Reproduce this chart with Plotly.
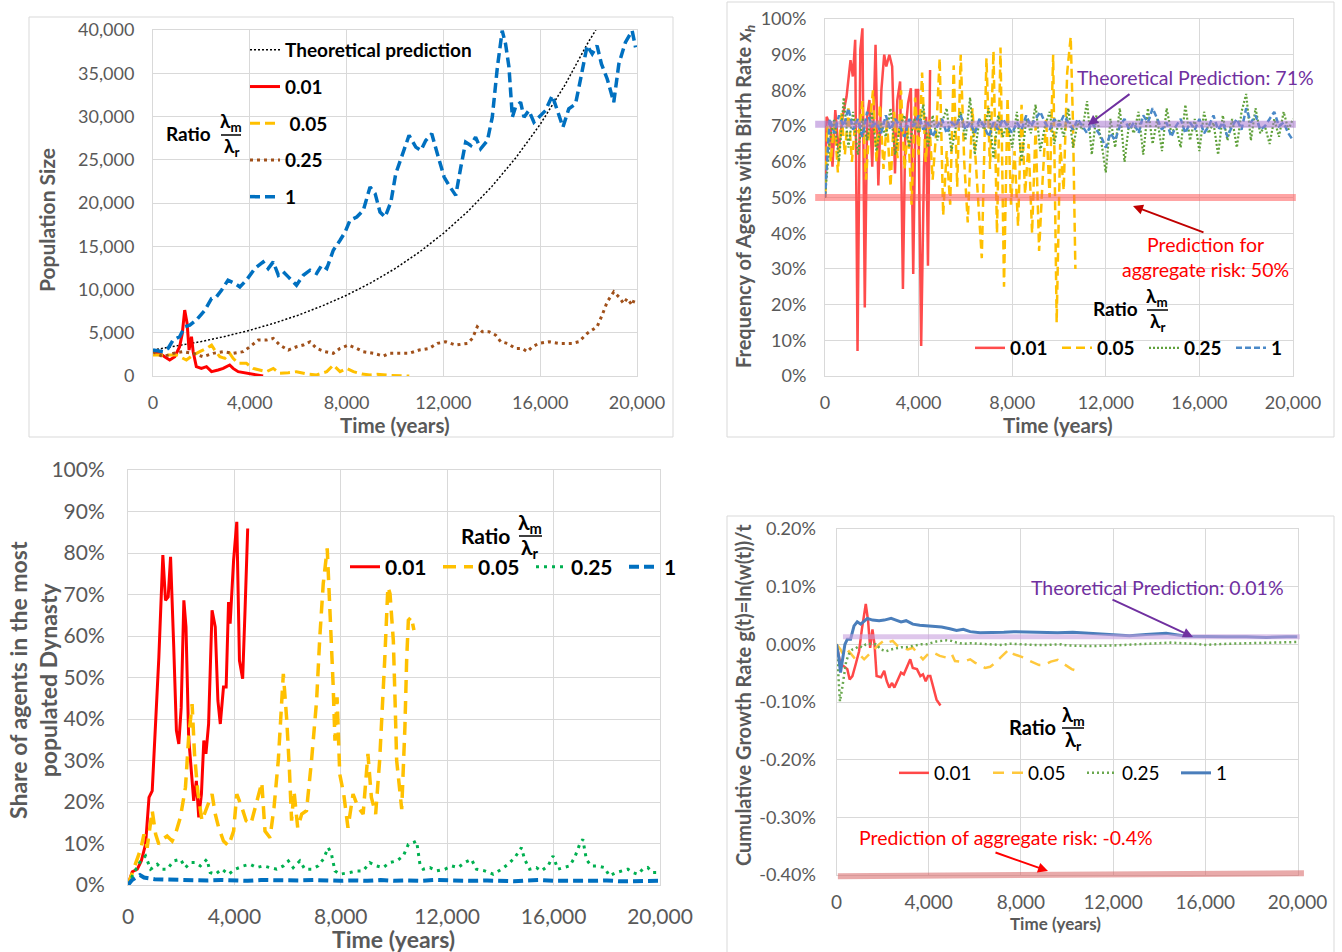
import plotly.graph_objects as go

# ---------------- DATA ----------------
year_ticks = [0, 4000, 8000, 12000, 16000, 20000]
year_ticktext = ["0", "4,000", "8,000", "12,000", "16,000", "20,000"]
pop_ticks = [0, 5000, 10000, 15000, 20000, 25000, 30000, 35000, 40000]
pop_ticktext = ["0", "5,000", "10,000", "15,000", "20,000", "25,000", "30,000", "35,000", "40,000"]
pct_ticks = [0, 10, 20, 30, 40, 50, 60, 70, 80, 90, 100]
pct_ticktext = ["0%", "10%", "20%", "30%", "40%", "50%", "60%", "70%", "80%", "90%", "100%"]
g_ticks = [-0.4, -0.3, -0.2, -0.1, 0.0, 0.1, 0.2]
g_ticktext = ["-0.40%", "-0.30%", "-0.20%", "-0.10%", "0.00%", "0.10%", "0.20%"]

# Panel 1 : population size
theory_years = [0, 1000, 2000, 3000, 4000, 5000, 6000, 7000, 8000, 9000, 10000, 11000, 12000,
                13000, 14000, 15000, 16000, 17000, 18000, 18300]
theory_pop = [3000, 3460, 3990, 4590, 5290, 6100, 7030, 8110, 9340, 10770, 12410, 14310, 16490,
              19000, 21900, 25250, 29100, 33540, 38650, 40000]
p1_r001_x = [0, 280, 480, 690, 900, 1100, 1210, 1310, 1410, 1490, 1590, 1660, 1790, 2000, 2210, 2420,
             2690, 2900, 3170, 3310, 3520, 3860, 4210, 4550]
p1_r001_y = [2800, 2620, 2230, 1850, 2230, 3380, 4920, 7620, 6080, 3000, 4540, 2810, 1080, 880, 1080, 500,
             690, 880, 1270, 880, 500, 310, 120, 0]
p1_r005_x = [0, 550, 970, 1380, 1660, 1930, 2210, 2420, 2550, 2760, 2970, 3170, 3310, 3520, 3860, 4140,
             4420, 4690, 4970, 5240, 5590, 5930, 6350, 6760, 7180, 7450, 7730, 8000, 8280, 8630, 8970,
             9250, 9780, 10590]
p1_r005_y = [2420, 2420, 2420, 1850, 2420, 2810, 3190, 3580, 3000, 2230, 2040, 2620, 2040, 1460, 1460, 880,
             690, 500, 880, 310, 380, 500, 230, 120, 500, 1270, 500, 880, 500, 230, 120,
             190, 80, 0]
p1_r025_x = [0, 414, 830, 1240, 1660, 2070, 2480, 2900, 3310, 3730, 4000, 4350, 4690, 4970, 5240, 5590,
             5930, 6210, 6490, 6760, 7110, 7450, 7730, 8070, 8420, 8690, 9110, 9520, 9760, 10170, 10580,
             11000, 11410, 11750, 12100, 12510, 12990, 13200, 13400, 13610, 13880, 14160, 14370, 14640,
             14980, 15260, 15470, 15670, 15950, 16360, 16770, 17320, 17600, 17940, 18350, 18560, 18770,
             19040, 19250, 19450, 19590, 19800, 19930]
p1_r025_y = [2800, 2230, 2620, 2810, 2620, 2230, 2620, 2810, 2620, 2810, 3380, 4150, 4150, 4350, 3580, 3000,
             3380, 3580, 3960, 3190, 2810, 2620, 3190, 3580, 3190, 2810, 2620, 2310, 2620, 2620, 2620,
             3000, 3190, 3770, 3960, 3580, 3770, 4350, 5690, 5120, 5120, 4730, 3960, 3770,
             3190, 3190, 2810, 3380, 3770, 3960, 3770, 3770, 3960, 4920, 5690, 7040, 8580,
             9730, 9150, 8380, 8960, 8190, 9150]
p1_r1_x = [0, 414, 620, 830, 1100, 1310, 1520, 1790, 2140, 2420, 2620, 2830, 3100, 3380, 3590, 3860, 4210,
           4550, 4760, 4970, 5180, 5380, 5590, 5930, 6210, 6490, 6760, 6970, 7180, 7450, 7730, 7940, 8140,
           8420, 8690, 8970, 9180, 9380, 9590, 9830, 10030, 10310, 10580, 10860, 11070, 11270, 11520,
           11750, 12030, 12230, 12510, 12720, 12920, 13130, 13330, 13540, 13820, 14020, 14230, 14430,
           14570, 14710, 14850, 14980, 15190, 15330, 15530, 15740, 15950, 16220, 16500, 16700, 16940,
           17180, 17460, 17670, 17940, 18150, 18350, 18530, 18770, 19040, 19250, 19520, 19800, 19940]
p1_r1_y = [3000, 2800, 3190, 4150, 4540, 5690, 5880, 6460, 7600, 8960, 9150, 9920, 11080, 10700, 10300, 11080,
           12420, 13190, 12420, 13190, 11650, 12040, 11460, 10500, 11650, 12230, 11850, 12800, 12420, 14540,
           15690, 16650, 18000, 18380, 19150, 21850, 21080, 18960, 18380, 20110, 23380, 25690, 27810, 26460,
           26080, 27230, 28000, 25690, 23000, 22040, 20880, 24150, 27040, 26650, 27610, 26270, 27230, 29920,
           35690, 39920, 38380, 35690, 29920, 31080, 31650, 29920, 30690, 29350, 29920, 30690, 32420, 30690,
           28770, 30880, 31460, 34340, 38190, 37230, 38190, 36080, 34340, 31650, 36080, 38570, 39920, 38000]

# Panel 2 : frequency of agents with birth rate x_h (%)
p2_r001_x = [0, 70, 240, 320, 440, 580, 750, 920, 1090, 1190, 1290, 1390, 1510, 1600, 1700, 1800, 1900,
             2020, 2160, 2280, 2410, 2530, 2620, 2750, 2870, 2990, 3090, 3210, 3330, 3430, 3550, 3670,
             3770, 3880, 3980, 4110, 4230, 4320, 4400, 4490]
p2_r001_y = [50, 72.6, 69.8, 58.6, 74.5, 63.2, 72.6, 78.2, 88.5, 83.9, 94.2, 7, 91.4, 97.4, 19.2, 72.6, 77.3,
             58.6, 92.8, 53.4, 80.1, 90, 86.7, 90, 86.7, 56.7, 77.3, 82.5, 24.4, 67.9, 76.4, 80.6,
             28.6, 80.1, 80.1, 8.4, 58.6, 72.6, 30.9, 85.7]
p2_r005_x = [0, 100, 250, 400, 550, 700, 850, 1000, 1150, 1300, 1450, 1600, 1750, 1900, 2050, 2200, 2350,
             2500, 2650, 2800, 2950, 3100, 3250, 3400, 3550, 3700, 3850, 4000, 4150, 4300, 4450, 4600,
             4750, 4900, 5050, 5200, 5350, 5500, 5650, 5800, 5950, 6100, 6300, 6500, 6700, 6900, 7050,
             7200, 7350, 7500, 7650, 7800, 7950, 8100, 8250, 8400, 8550, 8700, 8850, 9000, 9150, 9300,
             9450, 9600, 9750, 9900, 10050, 10200, 10350, 10500, 10600, 10700]
p2_r005_y = [50, 70, 60, 72, 57, 74, 62, 75, 60, 72, 68, 77, 55, 70, 80, 60, 76, 58, 72, 53, 74, 61, 80, 58,
             70, 48, 78, 62, 85, 60, 72, 55, 68, 89, 45, 63, 48, 87, 53, 90, 60, 43, 75, 55, 33, 89, 58,
             91, 40, 92, 25, 78, 48, 63, 42, 76, 51, 65, 40, 70, 35, 55, 72, 50, 90, 15, 65, 52, 85, 95,
             70, 30]
p2_step_years = [200 * i for i in range(101)]
p2_r025_y = [50, 66, 72, 60, 78, 64, 74, 62, 72, 66,
             74, 63, 71, 67, 75, 62, 70, 73, 64, 72,
             68, 76, 64, 73, 66, 71, 75, 63, 70, 74,
             66, 78, 62, 72, 69, 75, 61, 73, 67, 71,
             64, 74, 60, 72, 68, 76, 63, 70, 74, 65,
             72, 67, 75, 64, 71, 69, 77, 62, 73, 66,
             57, 72, 64, 75, 60, 71, 68, 74, 62, 75,
             65, 72, 63, 75, 68, 70, 64, 76, 66, 72,
             63, 74, 68, 71, 62, 73, 66, 72, 64, 74,
             79, 66, 75, 68, 70, 65, 72, 67, 74, 69,
             72]
p2_r1_y = [50, 72, 68, 73, 70, 75, 69, 72, 67, 74,
           70, 71, 68, 73, 69, 72, 70, 67, 72, 70,
           73, 69, 71, 67, 70, 72, 68, 71, 70, 73,
           69, 71, 68, 72, 70, 67, 71, 69, 72, 70,
           68, 71, 69, 73, 70, 72, 74, 71, 69, 72,
           70, 73, 71, 69, 72, 70, 68, 71, 69, 67,
           64, 68, 66, 70, 72, 69, 71, 68, 73, 71,
           75, 72, 69, 71, 67, 70, 72, 68, 71, 69,
           72, 68, 70, 73, 69, 71, 67, 70, 72, 69,
           75, 71, 73, 69, 70, 72, 74, 70, 71, 68,
           66]
pred_freq = 70.5
agg_freq = 50

# Panel 3 : share of agents in the most populated dynasty (%)
p3_r001_x = [0, 160, 350, 500, 660, 790, 910, 1040, 1160, 1310, 1410, 1510, 1600, 1720, 1820, 1910, 2000,
             2100, 2180, 2280, 2370, 2470, 2570, 2660, 2760, 2850, 2930, 3030, 3160, 3280, 3380, 3470,
             3590, 3690, 3780, 3840, 3970, 4090, 4190, 4310, 4400, 4500]
p3_r001_y = [0, 3.2, 3.8, 5.8, 9.8, 21.1, 22.7, 38.8, 54.9, 79.5, 68.6, 69.4, 79.1, 57.3, 37.2, 34.0, 42.8,
             68.6, 62.2, 35.6, 28.3, 20.3, 25.1, 16.3, 21.9, 34.8, 31.6, 38.8, 66.2, 62.2, 44.4, 38.8,
             47.7, 47.7, 68.2, 63.0, 78.3, 87.5, 54.1, 49.7, 66.2, 85.9]
p3_r005_x = [0, 225, 475, 600, 720, 910, 1040, 1160, 1290, 1470, 1660, 1780, 1970, 2160, 2280, 2410, 2500,
             2620, 2780, 2990, 3160, 3280, 3410, 3590, 3780, 3970, 4090, 4280, 4440, 4620, 4840, 5030,
             5150, 5340, 5490, 5650, 5840, 5970, 6070, 6150, 6240, 6380, 6530, 6710, 6900, 7090, 7210,
             7340, 7490, 7590, 7710, 7780, 7860, 7960, 8110, 8270, 8460, 8650, 8840, 9020, 9150, 9310,
             9460, 9650, 9770, 9850, 9975, 10040, 10100, 10290, 10410, 10475, 10540, 10650, 10750]
p3_r005_y = [0, 4.2, 8.6, 12.2, 9.0, 17.9, 12.2, 9.8, 11.0, 11.8, 10.6, 12.2, 16.3, 23.5, 35.6, 43.6, 31.6,
             22.7, 15.5, 19.1, 21.9, 17.1, 13.8, 10.6, 9.4, 13.0, 21.9, 18.7, 15.5, 14.7, 20.3, 24.7,
             13.0, 11.4, 18.7, 30.0, 50.9, 39.6, 27.5, 15.5, 22.7, 13.8, 17.1, 17.9, 30.0, 44.4, 59.7,
             72.6, 81.1, 67.8, 48.5, 34.8, 45.2, 26.7, 21.9, 13.8, 21.9, 18.7, 17.1, 31.6, 21.1, 17.1,
             30.0, 54.1, 71.8, 70.2, 58.9, 44.4, 30.0, 18.3, 38.0, 54.1, 63.8, 64.6, 61.4]
p3_r025_x = [0, 225, 475, 660, 850, 1100, 1290, 1470, 1720, 1970, 2160, 2350, 2530, 2720, 2970, 3090, 3280,
             3530, 3780, 4030, 4340, 4590, 4840, 5090, 5340, 5590, 5840, 6030, 6210, 6460, 6650, 6900,
             7150, 7340, 7530, 7650, 7780, 7960, 8340, 8590, 8840, 9090, 9340, 9590, 9840, 10100, 10350,
             10540, 10725, 10850, 10975, 11100, 11350, 11600, 11910, 12160, 12410, 12660, 12910, 13100,
             13410, 13730, 14040, 14290, 14540, 14790, 14910, 15100, 15350, 15540, 15790, 15980, 16160,
             16350, 16600, 16790, 16980, 17100, 17230, 17410, 17660, 17910, 18100, 18350, 18600, 18790,
             18975, 19160, 19350, 19540, 19725, 19850, 20000]
p3_r025_y = [0, 3.0, 5.8, 7.0, 3.8, 5.0, 3.8, 3.8, 5.8, 6.2, 4.2, 5.4, 5.4, 4.6, 6.2, 3.0, 2.6,
             3.8, 2.6, 3.8, 4.6, 5.0, 4.2, 4.6, 4.2, 3.8, 4.6, 5.8, 4.2, 5.8, 3.8, 3.8,
             4.6, 6.2, 9.0, 7.4, 3.4, 2.6, 3.0, 3.4, 3.4, 5.4, 4.6, 4.2, 5.4, 5.8, 7.0,
             9.8, 10.2, 10.6, 5.0, 3.8, 4.2, 3.4, 3.8, 4.6, 4.2, 5.4, 6.2, 3.8,
             3.4, 2.6, 3.8, 5.0, 6.6, 9.0, 6.2, 3.8, 4.2, 3.4, 4.6, 7.0, 3.8,
             4.2, 4.6, 6.6, 9.8, 11.0, 6.2, 4.6, 4.6, 4.2, 2.2, 3.0, 3.4, 3.8,
             3.0, 2.6, 3.8, 4.2, 3.0, 3.0, 3.0]
p3_r1_x = [0, 150, 300, 450, 600, 800, 1000, 1500, 2000, 2500, 3000, 3500, 4000, 4500, 5000, 5500, 6000,
           6500, 7000, 7500, 8000, 8500, 9000, 9500, 10000, 10500, 11000, 11500, 12000, 12500, 13000,
           13500, 14000, 14500, 15000, 15500, 16000, 16500, 17000, 17500, 18000, 18500, 19000, 19500, 20000]
p3_r1_y = [0, 1.2, 1.8, 2.4, 1.8, 1.6, 1.4, 1.3, 1.2, 1.2, 1.1, 1.2, 1.1, 1.0, 1.2, 1.1, 1.0,
           1.1, 1.2, 1.0, 1.0, 1.1, 1.0, 1.2, 1.0, 1.1, 1.0, 1.2, 1.1, 1.0, 1.0,
           1.1, 1.0, 0.9, 1.1, 1.2, 1.0, 1.1, 1.0, 1.0, 1.1, 0.9, 1.0, 1.0, 1.0]

# Panel 4 : cumulative growth rate (%)
p4_r001_x = [0, 175, 320, 470, 570, 690, 830, 980, 1100, 1200, 1270, 1370, 1460, 1560, 1650, 1740, 1930,
             2070, 2180, 2290, 2410, 2510, 2660, 2800, 2920, 3100, 3200, 3310, 3490, 3640, 3750, 3870,
             3970, 4070, 4190, 4340, 4510]
p4_r001_y = [0, -0.035, -0.038, -0.043, -0.061, -0.055, -0.035, -0.012, 0.026, 0.052, 0.070, 0.041, -0.006,
             0.026, 0.000, -0.055, -0.057, -0.046, -0.064, -0.075, -0.067, -0.075, -0.061, -0.049, -0.052,
             -0.035, -0.026, -0.041, -0.043, -0.055, -0.052, -0.064, -0.055, -0.055, -0.075, -0.096, -0.106]
p4_r005_x = [0, 175, 320, 540, 760, 980, 1200, 1420, 1640, 1850, 2070, 2220, 2440, 2660, 2880, 3100, 3310,
             3530, 3750, 3970, 4190, 4480, 4770, 5000, 5140, 5360, 5580, 5800, 6020, 6230, 6450, 6670,
             6890, 7110, 7330, 7480, 7690, 7910, 8130, 8350, 8570, 8790, 9010, 9300, 9600, 9900, 10200, 10500]
p4_r005_y = [0, -0.009, -0.020, -0.012, -0.023, -0.017, -0.026, -0.017, -0.009, 0.000, 0.007, 0.003, 0.006,
             -0.003, -0.006, -0.009, -0.006, -0.017, -0.026, -0.017, -0.014, -0.020, -0.023, -0.017, -0.029,
             -0.030, -0.029, -0.026, -0.032, -0.036, -0.041, -0.039, -0.032, -0.023, -0.014, -0.009, -0.017,
             -0.020, -0.023, -0.028, -0.032, -0.036, -0.036, -0.030, -0.027, -0.035, -0.043, -0.047]
p4_r025_x = [0, 70, 150, 250, 320, 420, 540, 690, 830, 980, 1120, 1270, 1490, 1710, 1930, 2150, 2370, 2580,
             2800, 3020, 3240, 3460, 3680, 3900, 4120, 4340, 4560, 4770, 4990, 5210, 5500, 5800, 6230,
             6670, 7110, 7550, 7990, 8570, 9150, 9740, 10000, 11000, 12000, 13000, 14000, 14500, 15500,
             16000, 17000, 18000, 19000, 20000]
p4_r025_y = [0, -0.046, -0.099, -0.075, -0.052, -0.029, -0.017, -0.009, -0.007, -0.003, -0.005, 0, 0.001, 0,
             -0.009, -0.012, -0.009, -0.007, -0.005, -0.005, -0.003, -0.001, 0, 0, 0.003, 0.005, 0.006,
             0.007, 0.006, 0.003, 0.001, 0.002, 0.001, 0, -0.001, 0.001, 0, -0.001, -0.001, 0, -0.002,
             -0.003, -0.002, 0.0, 0.002, 0.003, 0.001, -0.001, 0.001, 0.002, 0.003, 0.004]
p4_r1_x = [0, 100, 175, 280, 365, 470, 610, 760, 900, 1050, 1200, 1340, 1560, 1850, 2070, 2370, 2580, 2800,
           3020, 3310, 3610, 3900, 4190, 4560, 4920, 5210, 5500, 5800, 6230, 6820, 7260, 7690, 8280, 8860,
           9590, 10250, 11120, 11990, 12710, 13430, 14300, 15170, 16040, 16910, 17780, 18650, 19520, 20000]
p4_r1_y = [0, -0.023, -0.049, -0.023, 0.000, 0.009, 0.009, 0.032, 0.039, 0.035, 0.041, 0.045, 0.042, 0.041,
           0.042, 0.045, 0.042, 0.039, 0.041, 0.035, 0.033, 0.032, 0.031, 0.030, 0.027, 0.024, 0.026, 0.022,
           0.020, 0.020, 0.021, 0.022, 0.021, 0.021, 0.020, 0.021, 0.019, 0.017, 0.015, 0.017, 0.019, 0.014,
           0.013, 0.013, 0.013, 0.012, 0.013, 0.013]
pred_g = 0.013
agg_g_start, agg_g_end = -0.402, -0.397

# ---------------- LAYOUT HELPERS ----------------
W, H = 1342, 952
def fx(p): return p / W
def fy(p): return 1 - p / H

P1 = (153, 637, 30, 376)
P2 = (825, 1293, 19, 376)
P3 = (128, 660, 470, 885)
P4 = (836.5, 1297.5, 529, 875)

GRID = '#D9D9D9'
TICK = '#595959'
FONT = 'Lato, Carlito, Calibri, sans-serif'

fig = go.Figure()

def add(x, y, name, color, width, dash, ax, legend, group=None):
    fig.add_trace(go.Scatter(
        x=x, y=y, name=name, mode='lines',
        line=dict(color=color, width=width, dash=dash),
        xaxis='x' + ax, yaxis='y' + ax, legend=legend, legendgroup=group,
        hoverinfo='skip'))

# Panel 1
add(theory_years, theory_pop, 'Theoretical prediction', '#000000', 1.5, '2px,2px', '', 'legend', 'g0')
add(p1_r001_x, p1_r001_y, '0.01', '#FF0000', 3, 'solid', '', 'legend', 'g1')
add(p1_r005_x, p1_r005_y, ' 0.05', '#FFC000', 3, '10px,5px', '', 'legend', 'g2')
add(p1_r025_x, p1_r025_y, '0.25', '#A0501A', 3, '3px,4px', '', 'legend', 'g3')
add(p1_r1_x, p1_r1_y, '1', '#0070C0', 3.5, '10px,5px', '', 'legend', 'g4')

# Panel 2
add(p2_r001_x, p2_r001_y, '0.01', 'rgba(255,45,45,0.85)', 2.5, 'solid', '2', 'legend2')
add(p2_r005_x, p2_r005_y, '0.05', '#FFC000', 2.5, '9px,5px', '2', 'legend2')
add(p2_step_years, p2_r025_y, '0.25', '#5FA03A', 2.2, '2px,2px', '2', 'legend2')
add(p2_step_years, p2_r1_y, '1', '#4A89C8', 2.5, '6px,3px', '2', 'legend2')

# Panel 3
add(p3_r001_x, p3_r001_y, '0.01', '#FF0000', 3, 'solid', '3', 'legend3')
add(p3_r005_x, p3_r005_y, '0.05', '#FFC000', 3.5, '13px,8px', '3', 'legend3')
add(p3_r025_x, p3_r025_y, '0.25', '#00B050', 3, '3px,5px', '3', 'legend3')
add(p3_r1_x, p3_r1_y, '1', '#0070C0', 4, '10px,5px', '3', 'legend3')

# Panel 4
add(p4_r001_x, p4_r001_y, '0.01', '#FF4848', 2.5, 'solid', '4', 'legend4')
add(p4_r005_x, p4_r005_y, '0.05', '#FFC83C', 2.5, '11px,8px', '4', 'legend4')
add(p4_r025_x, p4_r025_y, '0.25', '#6AA84F', 2.5, '2px,3px', '4', 'legend4')
add(p4_r1_x, p4_r1_y, '1', '#4A7EBB', 3, 'solid', '4', 'legend4')


def xaxis(box, anchor, size, standoff):
    return dict(domain=[fx(box[0]), fx(box[1])], anchor=anchor, range=[0, 20000],
                tickmode='array', tickvals=year_ticks, ticktext=year_ticktext,
                showgrid=True, gridcolor=GRID, gridwidth=1, zeroline=False,
                showline=True, mirror=True, linecolor=GRID, linewidth=1, ticks='',
                tickfont=dict(size=size, color=TICK, family=FONT), automargin=False,
                ticklabelstandoff=standoff, fixedrange=True)


def yaxis(box, anchor, rng, vals, text, size, standoff):
    return dict(domain=[fy(box[3]), fy(box[2])], anchor=anchor, range=rng,
                tickmode='array', tickvals=vals, ticktext=text,
                showgrid=True, gridcolor=GRID, gridwidth=1, zeroline=False,
                showline=True, mirror=True, linecolor=GRID, linewidth=1, ticks='',
                tickfont=dict(size=size, color=TICK, family=FONT), automargin=False,
                ticklabelstandoff=standoff, fixedrange=True)


annotations = []
shapes = []


def text(px, py, t, size, color='#000000', bold=False, angle=0, xanchor='center', yanchor='middle'):
    annotations.append(dict(x=fx(px), y=fy(py), xref='paper', yref='paper', text=t, showarrow=False,
                            textangle=angle, xanchor=xanchor, yanchor=yanchor,
                            font=dict(size=size, color=color, family=FONT,
                                      weight='bold' if bold else 'normal')))


def arrow(hx, hy, tx, ty, color):
    annotations.append(dict(x=fx(hx), y=fy(hy), xref='paper', yref='paper', text='', showarrow=True,
                            ax=tx - hx, ay=ty - hy, arrowhead=2, arrowsize=1, arrowwidth=2,
                            arrowcolor=color, standoff=0, startstandoff=0))


def ratio(xr, yc, size, bar_x0, bar_x1, fx_c):
    text(xr, yc, 'Ratio', size, bold=True, xanchor='right')
    text(fx_c, yc - 12, 'λ<sub>m</sub>', size, bold=True)
    text(fx_c, yc + 13, 'λ<sub>r</sub>', size, bold=True)
    shapes.append(dict(type='line', xref='paper', yref='paper', x0=fx(bar_x0), x1=fx(bar_x1),
                       y0=fy(yc + 1), y1=fy(yc + 1), line=dict(color='black', width=1.5)))


# panel frames
for (x0, y0, x1, y1) in [(29, 17, 673, 437), (727, 2, 1334, 437), (727, 516, 1334, 970)]:
    shapes.append(dict(type='rect', xref='paper', yref='paper', x0=fx(x0), x1=fx(x1), y0=fy(y1), y1=fy(y0),
                       line=dict(color=GRID, width=1), layer='below'))

# prediction bands (panel 2)
shapes.append(dict(type='line', xref='x2 domain', yref='y2 domain', x0=-0.021, x1=1.006,
                   y0=pred_freq / 100, y1=pred_freq / 100, line=dict(color='rgba(170,120,210,0.55)', width=7)))
shapes.append(dict(type='line', xref='x2 domain', yref='y2 domain', x0=-0.021, x1=1.006,
                   y0=agg_freq / 100, y1=agg_freq / 100, line=dict(color='rgba(255,90,90,0.55)', width=7)))
# prediction bands (panel 4)
g0, g1 = g_ticks[0], g_ticks[-1]
shapes.append(dict(type='line', xref='x4 domain', yref='y4 domain', x0=0.014, x1=1.005,
                   y0=(pred_g - g0) / (g1 - g0), y1=(pred_g - g0) / (g1 - g0),
                   line=dict(color='rgba(200,160,222,0.6)', width=5)))
shapes.append(dict(type='line', xref='x4 domain', yref='y4 domain', x0=0.003, x1=1.014,
                   y0=(agg_g_start - g0) / (g1 - g0), y1=(agg_g_end - g0) / (g1 - g0),
                   line=dict(color='rgba(215,100,100,0.55)', width=6)))

# axis titles
text(46, 220, 'Population Size', 21, TICK, True, -90)
text(395, 425, 'Time (years)', 20.5, TICK, True)
text(745, 197, 'Frequency of Agents with Birth Rate <i>x<sub>h</sub></i>', 20, TICK, True, -90)
text(1058, 425, 'Time (years)', 20.5, TICK, True)
text(33, 680, 'Share of agents in the most<br>populated Dynasty', 23, TICK, True, -90)
text(393, 939, 'Time (years)', 23, TICK, True)
text(743, 695, 'Cumulative Growth Rate g(t)=ln(w(t))/t', 20, TICK, True, -90)
text(1055, 923, 'Time (years)', 17, TICK, True)

# prediction labels / arrows
text(1195, 77, 'Theoretical Prediction: 71%', 19.5, '#7030A0')
arrow(1088, 125, 1131, 93, '#7030A0')
text(1205, 257, 'Prediction for<br>aggregate risk: 50%', 19.5, '#FF0000')
arrow(1133, 206, 1205, 233, '#C00000')
text(1157, 587, 'Theoretical Prediction: 0.01%', 19.5, '#7030A0')
arrow(1193, 637, 1111, 599, '#7030A0')
text(1006, 837, 'Prediction of aggregate risk: -0.4%', 19.5, '#FF0000')
arrow(1048, 871, 994, 852, '#FF0000')

# Ratio labels
ratio(213, 134, 19, 221, 241, 231)
ratio(1140, 309, 19, 1147, 1168, 1157)
ratio(512, 535, 21, 519, 542, 530)
ratio(1058, 727, 20, 1062, 1084, 1073)

fig.update_layout(
    width=W, height=H, autosize=False,
    margin=dict(l=0, r=0, t=0, b=0, autoexpand=False),
    paper_bgcolor='white', plot_bgcolor='white',
    font=dict(family=FONT, color='#000000'),
    hovermode=False,
    xaxis=xaxis(P1, 'y', 18, 10), yaxis=yaxis(P1, 'x', [0, 40000], pop_ticks, pop_ticktext, 18, 14),
    xaxis2=xaxis(P2, 'y2', 18, 10), yaxis2=yaxis(P2, 'x2', [0, 100], pct_ticks, pct_ticktext, 18, 14),
    xaxis3=xaxis(P3, 'y3', 21, 13), yaxis3=yaxis(P3, 'x3', [0, 100], pct_ticks, pct_ticktext, 21, 18),
    xaxis4=xaxis(P4, 'y4', 19, 10), yaxis4=yaxis(P4, 'x4', [g0, g1], g_ticks, g_ticktext, 18, 16),
    legend=dict(x=fx(245), y=fy(31), xanchor='left', yanchor='top', orientation='v',
                traceorder='grouped', tracegroupgap=9, itemwidth=30, bgcolor='rgba(0,0,0,0)',
                font=dict(size=19, color='black', family=FONT, weight='bold')),
    legend2=dict(x=fx(970), y=fy(348), xanchor='left', yanchor='middle', orientation='h',
                 itemwidth=30, entrywidth=42, bgcolor='rgba(0,0,0,0)',
                 font=dict(size=19, color='black', family=FONT, weight='bold')),
    legend3=dict(x=fx(345), y=fy(567), xanchor='left', yanchor='middle', orientation='h',
                 itemwidth=30, entrywidth=48, bgcolor='rgba(0,0,0,0)',
                 font=dict(size=21, color='black', family=FONT, weight='bold')),
    legend4=dict(x=fx(894), y=fy(773), xanchor='left', yanchor='middle', orientation='h',
                 itemwidth=30, entrywidth=49, bgcolor='rgba(0,0,0,0)',
                 font=dict(size=19, color='black', family=FONT)),
    annotations=annotations, shapes=shapes,
)

fig.write_html('out.html', config={'displayModeBar': False},
               post_script="document.body.style.margin='0';document.body.style.overflow='hidden';")
